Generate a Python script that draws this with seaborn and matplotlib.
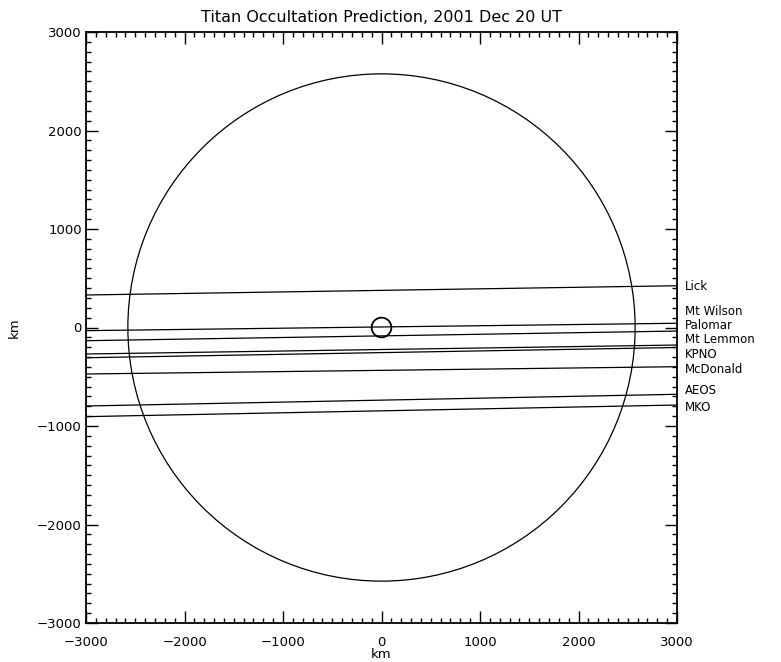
import matplotlib
matplotlib.use("Agg")
import matplotlib.pyplot as plt
from matplotlib.patches import Circle
from matplotlib.ticker import MultipleLocator
import seaborn as sns
import pandas as pd

# ---- data ----
stations = ["Lick", "Mt Wilson", "Palomar", "Mt Lemmon", "KPNO", "McDonald", "AEOS", "MKO"]
x_ends = [-3000, 3000]
y_left = [330, -32, -134, -269, -307, -472, -797, -905]
y_right = [424, 43, -36, -178, -203, -398, -678, -787]
label_y = [414, 160, 20, -125, -270, -425, -635, -817]
titan_radius = 2575
center_radius = 100

rows = []
for s, yl, yr in zip(stations, y_left, y_right):
    rows.append({"station": s, "x": x_ends[0], "y": yl})
    rows.append({"station": s, "x": x_ends[1], "y": yr})
df = pd.DataFrame(rows)

sns.set_style("ticks")
plt.rcParams["font.family"] = ["DejaVu Sans"]
plt.rcParams["text.color"] = "black"
plt.rcParams["axes.labelcolor"] = "black"
plt.rcParams["xtick.color"] = "black"
plt.rcParams["ytick.color"] = "black"

fig = plt.figure(figsize=(7.81, 6.62), dpi=100)
ax = fig.add_axes([86 / 781, 1 - 623 / 662, 591 / 781, 591 / 662])

sns.lineplot(data=df, x="x", y="y", units="station", estimator=None,
             color="black", linewidth=0.9, ax=ax, legend=False, sort=False)

ax.add_patch(Circle((0, 0), titan_radius, fill=False, edgecolor="black", linewidth=0.9))
ax.add_patch(Circle((0, 0), center_radius, fill=False, edgecolor="black", linewidth=1.3))

for s, ly in zip(stations, label_y):
    ax.annotate(s, xy=(3000, ly), xytext=(6, 0), textcoords="offset points",
                va="center", ha="left", fontsize=8.5, color="black", annotation_clip=False)

ax.set_xlim(-3000, 3000)
ax.set_ylim(-3000, 3000)
ax.xaxis.set_major_locator(MultipleLocator(1000))
ax.yaxis.set_major_locator(MultipleLocator(1000))
ax.xaxis.set_minor_locator(MultipleLocator(100))
ax.yaxis.set_minor_locator(MultipleLocator(100))
ax.tick_params(which="both", direction="in", top=True, right=True, width=1.0, labelsize=9.5,
               color="black", labelcolor="black")
ax.tick_params(which="major", length=8.5)
ax.tick_params(which="minor", length=3.8)
ax.tick_params(axis="x", which="major", pad=9)
ax.tick_params(axis="y", which="major", pad=3)
for sp in ax.spines.values():
    sp.set_visible(True)
    sp.set_linewidth(1.3)
    sp.set_color("black")

ax.set_xlabel("km", fontsize=9.5, labelpad=0, color="black")
ax.set_ylabel("km", fontsize=9.5, labelpad=12, color="black")
ax.set_title("Titan Occultation Prediction, 2001 Dec 20 UT", fontsize=11.5, pad=7, color="black")

fig.savefig("out.png", dpi=100)
